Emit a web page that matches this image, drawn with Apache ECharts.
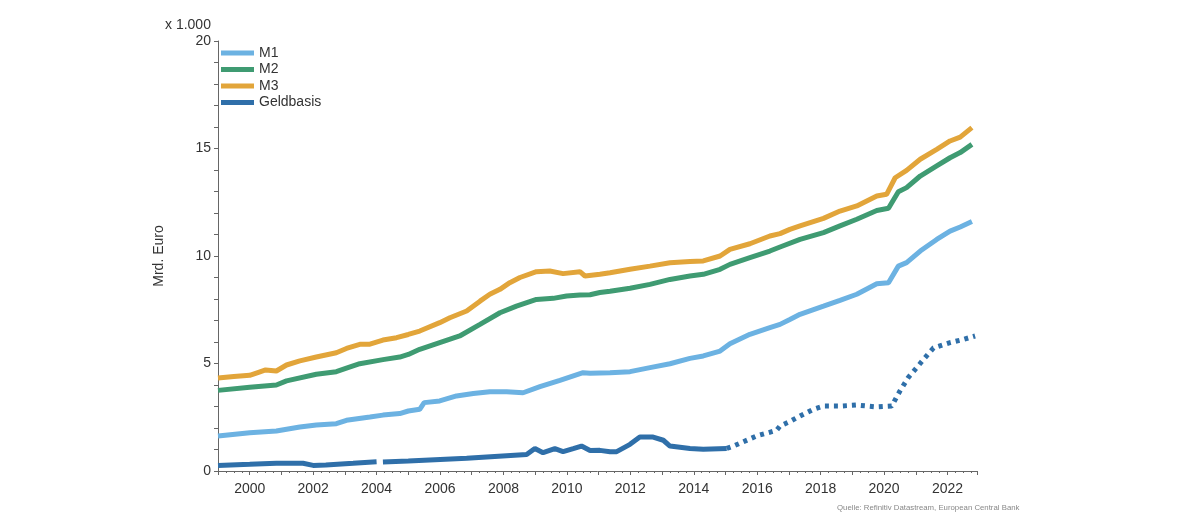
<!DOCTYPE html>
<html>
<head>
<meta charset="utf-8">
<script src="https://cdn.jsdelivr.net/npm/echarts@6/dist/echarts.min.js"></script>
<style>
html,body{margin:0;padding:0;background:#fff;}
#chart{width:1186px;height:520px;}
</style>
</head>
<body>
<div id="chart"></div>
<script>
// Values in thousand billion euro (x 1.000 Mrd. Euro), x = decimal year
const seriesNames = ['M1', 'M2', 'M3', 'Geldbasis'];
const yTicks = [0, 5, 10, 15, 20];

const m1 = [[1999.0,1.63],[2000.0,1.78],[2000.84,1.86],[2001.58,2.05],[2002.1,2.14],[2002.73,2.2],[2003.05,2.36],[2003.79,2.51],[2004.2,2.6],[2004.73,2.67],[2005.0,2.79],[2005.36,2.87],[2005.5,3.18],[2005.99,3.26],[2006.52,3.49],[2007.05,3.6],[2007.57,3.69],[2008.1,3.69],[2008.62,3.64],[2009.15,3.92],[2009.78,4.22],[2010.51,4.57],[2010.73,4.55],[2011.36,4.57],[2011.99,4.62],[2012.62,4.81],[2013.25,4.99],[2013.88,5.24],[2014.3,5.35],[2014.83,5.58],[2015.14,5.92],[2015.77,6.36],[2016.4,6.67],[2016.72,6.82],[2017.03,7.05],[2017.35,7.29],[2018.09,7.67],[2018.61,7.94],[2019.14,8.22],[2019.77,8.71],[2020.14,8.76],[2020.45,9.53],[2020.71,9.69],[2021.14,10.23],[2021.66,10.77],[2022.08,11.16],[2022.4,11.35],[2022.77,11.6]];

const m2 = [[1999.0,3.75],[2000.0,3.9],[2000.84,4.0],[2001.16,4.19],[2002.1,4.5],[2002.73,4.62],[2003.05,4.78],[2003.47,4.99],[2004.2,5.18],[2004.73,5.3],[2005.0,5.42],[2005.36,5.66],[2005.99,5.97],[2006.62,6.28],[2007.26,6.82],[2007.89,7.36],[2008.41,7.67],[2009.04,7.98],[2009.57,8.03],[2009.99,8.14],[2010.41,8.19],[2010.73,8.2],[2011.04,8.3],[2011.36,8.36],[2011.99,8.5],[2012.62,8.68],[2013.25,8.91],[2013.88,9.07],[2014.3,9.15],[2014.83,9.38],[2015.14,9.61],[2015.77,9.92],[2016.4,10.23],[2016.72,10.42],[2017.35,10.77],[2018.09,11.09],[2018.61,11.4],[2019.14,11.71],[2019.77,12.12],[2020.14,12.22],[2020.45,12.99],[2020.71,13.18],[2021.14,13.72],[2021.66,14.19],[2022.08,14.57],[2022.4,14.81],[2022.77,15.19]];

const m3 = [[1999.0,4.33],[1999.5,4.4],[2000.0,4.45],[2000.3,4.6],[2000.5,4.7],[2000.84,4.65],[2001.16,4.93],[2001.58,5.12],[2002.1,5.3],[2002.73,5.5],[2003.05,5.7],[2003.47,5.89],[2003.79,5.9],[2004.2,6.09],[2004.63,6.2],[2005.0,6.35],[2005.36,6.51],[2005.99,6.9],[2006.31,7.13],[2006.84,7.44],[2007.26,7.9],[2007.57,8.22],[2007.89,8.45],[2008.2,8.76],[2008.52,9.0],[2009.04,9.27],[2009.46,9.3],[2009.88,9.18],[2010.41,9.27],[2010.57,9.07],[2011.04,9.15],[2011.36,9.22],[2011.99,9.38],[2012.62,9.53],[2013.25,9.69],[2013.88,9.74],[2014.3,9.77],[2014.83,10.0],[2015.14,10.31],[2015.77,10.57],[2016.4,10.93],[2016.72,11.04],[2017.03,11.24],[2017.35,11.4],[2018.09,11.75],[2018.61,12.09],[2019.14,12.33],[2019.77,12.79],[2020.08,12.87],[2020.35,13.64],[2020.71,13.98],[2021.14,14.5],[2021.66,14.96],[2022.08,15.35],[2022.4,15.53],[2022.77,15.97]];

const geldbasisSolid = [[1999.0,0.26],[2000.0,0.31],[2000.84,0.36],[2001.68,0.36],[2002.0,0.26],[2002.4,0.28],[2003.26,0.36],[2004.0,0.43],[2004.1,null],[2004.2,0.42],[2005.0,0.47],[2006.84,0.59],[2008.73,0.77],[2008.99,1.05],[2009.25,0.85],[2009.62,1.04],[2009.88,0.9],[2010.2,1.04],[2010.46,1.16],[2010.73,0.95],[2011.04,0.96],[2011.36,0.9],[2011.57,0.9],[2011.99,1.24],[2012.3,1.58],[2012.72,1.58],[2013.04,1.43],[2013.25,1.16],[2013.88,1.05],[2014.3,1.01],[2015.04,1.05]];

const geldbasisDotted = [[2015.04,1.05],[2015.25,1.16],[2015.98,1.63],[2016.61,1.89],[2016.72,2.09],[2017.03,2.3],[2017.35,2.56],[2017.77,2.87],[2018.09,3.02],[2018.61,3.02],[2019.14,3.07],[2019.77,2.98],[2020.24,3.02],[2020.5,3.72],[2020.76,4.34],[2021.03,4.81],[2021.29,5.27],[2021.56,5.73],[2022.08,5.97],[2022.5,6.12],[2022.87,6.28]];

const colors = {M1:'#6cb2e2', M2:'#3f9b72', M3:'#e2a53a', Geldbasis:'#2f6fa9'};
const FONT = 'Liberation Sans, Arial, sans-serif';

const chart = echarts.init(document.getElementById('chart'), null, {renderer:'canvas'});

function lineSeries(name, data, dashed) {
  return {
    name: name, type: 'line', data: data, showSymbol: false, symbol: 'none',
    connectNulls: false, animation: false, z: dashed ? 3 : 2,
    lineStyle: {width: 5, color: colors[name], type: dashed ? [4, 5] : 'solid', cap: 'butt'},
    itemStyle: {color: colors[name]}
  };
}

chart.setOption({
  animation: false,
  textStyle: {fontFamily: FONT},
  grid: {left: 218, right: 209, top: 41, bottom: 49, containLabel: false},
  legend: {
    data: seriesNames, orient: 'vertical', left: 216, top: 41,
    icon: 'rect', itemWidth: 33, itemHeight: 5, itemGap: 2.5,
    textStyle: {fontSize: 14, color: '#333', fontFamily: FONT, lineHeight: 14},
    selectedMode: false
  },
  xAxis: {
    type: 'value', min: 1999, max: 2022.93, interval: 1,
    axisLine: {show: true, lineStyle: {color: '#666', width: 1}},
    axisTick: {show: true, length: 4, lineStyle: {color: '#666'}},
    minorTick: {show: true, splitNumber: 4, length: 2, lineStyle: {color: '#666'}},
    splitLine: {show: false},
    axisLabel: {
      fontSize: 14, color: '#333', margin: 11, fontFamily: FONT, showMaxLabel: false,
      formatter: function (v) { return Math.abs(v % 2) < 1e-6 ? String(v) : ''; }
    }
  },
  yAxis: {
    type: 'value', min: yTicks[0], max: yTicks[yTicks.length - 1], interval: 5,
    name: 'Mrd. Euro', nameLocation: 'middle', nameRotate: 90, nameGap: 52,
    nameTextStyle: {fontSize: 14, color: '#333', fontFamily: FONT},
    axisLine: {show: true, lineStyle: {color: '#666', width: 1}},
    axisTick: {show: true, length: 4, lineStyle: {color: '#666'}},
    minorTick: {show: true, splitNumber: 5, length: 4, lineStyle: {color: '#666'}},
    splitLine: {show: false},
    axisLabel: {fontSize: 14, color: '#333', margin: 7, fontFamily: FONT}
  },
  graphic: [
    {type: 'text', left: 165, top: 18, style: {text: 'x 1.000', fontSize: 14, fill: '#333', fontFamily: FONT}},
    {type: 'text', left: 837, top: 504, style: {text: 'Quelle: Refinitiv Datastream, European Central Bank', fontSize: 7.8, fill: '#888', fontFamily: FONT}}
  ],
  series: [
    lineSeries('M1', m1, false),
    lineSeries('M2', m2, false),
    lineSeries('M3', m3, false),
    lineSeries('Geldbasis', geldbasisSolid, false),
    lineSeries('Geldbasis', geldbasisDotted, true)
  ]
});
</script>
</body>
</html>
